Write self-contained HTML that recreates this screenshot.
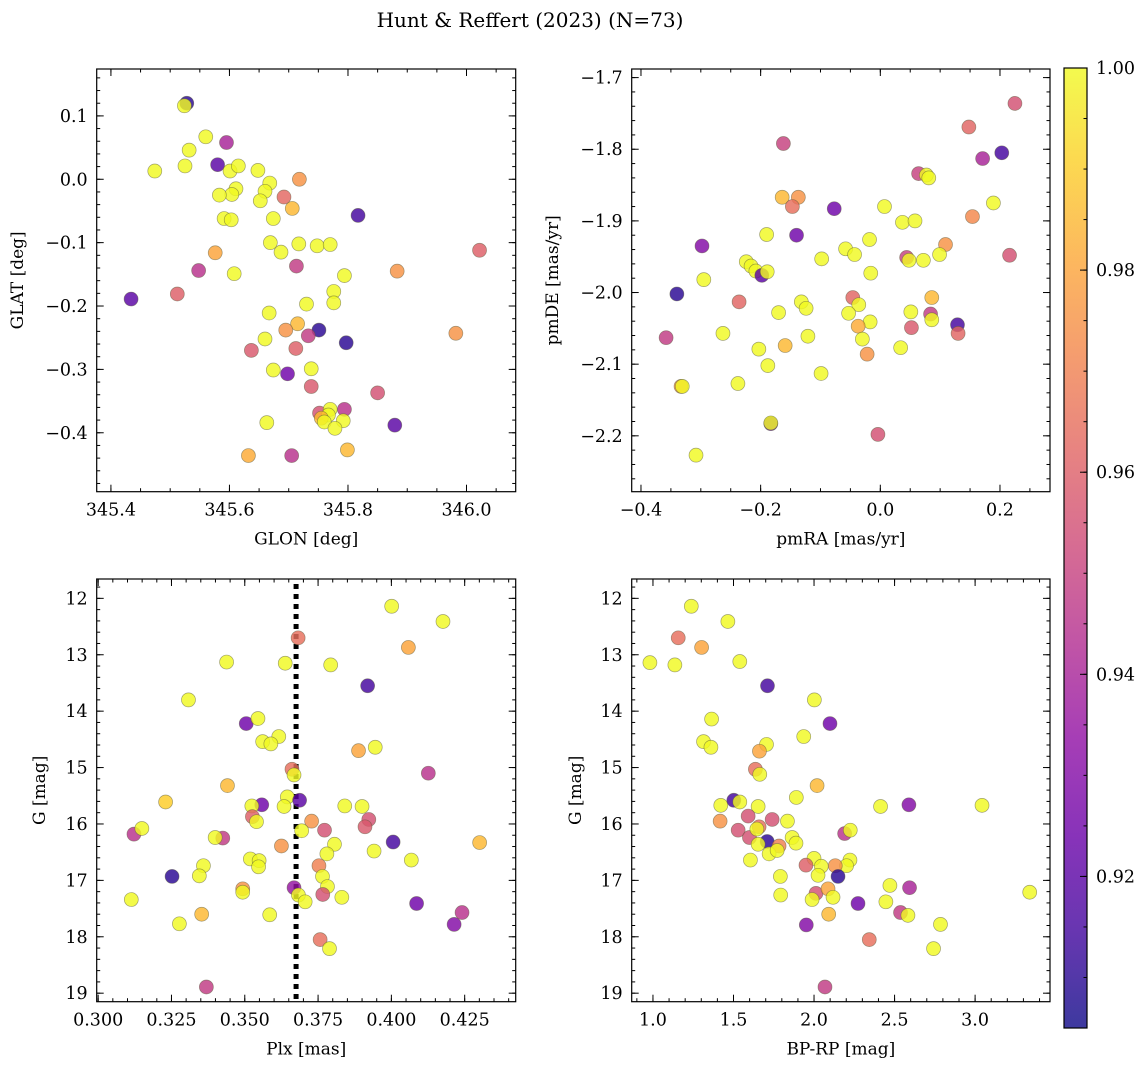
<!DOCTYPE html>
<html><head><meta charset="utf-8"><style>
html,body{margin:0;padding:0;background:#fff;}
svg{display:block;font-family:"DejaVu Serif","Liberation Serif",serif;}
</style></head><body>
<svg id="fig" width="1148" height="1068" viewBox="0 0 1148 1068" xmlns="http://www.w3.org/2000/svg">
<defs><linearGradient id="plasma" x1="0" y1="1" x2="0" y2="0">
<stop offset="0" stop-color="#0d0887"/><stop offset="0.1" stop-color="#41049d"/><stop offset="0.2" stop-color="#6a00a8"/><stop offset="0.3" stop-color="#8f0da4"/><stop offset="0.4" stop-color="#b12a90"/><stop offset="0.5" stop-color="#cc4778"/><stop offset="0.6" stop-color="#e16462"/><stop offset="0.7" stop-color="#f2844b"/><stop offset="0.8" stop-color="#fca636"/><stop offset="0.9" stop-color="#fcce25"/><stop offset="1" stop-color="#f0f921"/></linearGradient></defs>
<text x="530" y="27" text-anchor="middle" font-size="20">Hunt &amp; Reffert (2023) (N=73)</text>
</svg>
<script>
const p1x=[345.528,345.524,345.560,345.595,345.532,345.580,345.474,345.525,345.601,345.615,345.648,345.718,345.668,345.611,345.604,345.583,345.660,345.652,345.692,345.706,345.591,345.603,345.674,345.817,345.669,345.717,345.687,345.748,345.770,345.576,346.022,345.548,345.713,345.608,345.794,345.883,345.434,345.512,345.776,345.776,345.730,345.667,345.715,345.695,345.751,345.733,345.797,345.982,345.660,345.637,345.712,345.674,345.698,345.738,345.738,345.850,345.752,345.794,345.770,345.767,345.755,345.760,345.792,345.778,345.663,345.879,345.799,345.632,345.705];
const p1y=[0.120,0.116,0.067,0.058,0.046,0.023,0.013,0.021,0.013,0.021,0.014,0.000,-0.006,-0.015,-0.024,-0.025,-0.019,-0.034,-0.028,-0.046,-0.062,-0.064,-0.062,-0.057,-0.100,-0.102,-0.115,-0.105,-0.103,-0.116,-0.112,-0.144,-0.137,-0.149,-0.152,-0.145,-0.189,-0.181,-0.177,-0.195,-0.197,-0.211,-0.228,-0.238,-0.238,-0.247,-0.258,-0.243,-0.252,-0.270,-0.267,-0.301,-0.307,-0.299,-0.327,-0.337,-0.369,-0.363,-0.363,-0.372,-0.377,-0.383,-0.381,-0.393,-0.384,-0.388,-0.427,-0.436,-0.436];
const p1c=[0.91,1,1,0.94,1,0.92,1,1,1,1,1,0.975,1,1,1,1,1,1,0.963,0.985,1,1,1,0.915,1,1,1,1,1,0.98,0.96,0.945,0.948,1,1,0.975,0.92,0.96,1,1,1,1,0.985,0.975,0.91,0.948,0.91,0.975,1,0.958,0.96,1,0.925,1,0.958,0.955,0.955,0.945,1,1,0.985,1,1,1,1,0.92,0.985,0.982,0.945];

const p2x=[0.225,0.148,-0.162,0.203,0.171,0.064,0.077,0.081,-0.164,-0.137,-0.147,-0.077,0.007,0.189,0.154,0.037,0.058,-0.190,-0.140,-0.298,-0.018,0.109,-0.058,-0.043,0.044,0.048,0.072,0.099,0.216,-0.098,-0.224,-0.216,-0.208,-0.198,-0.189,-0.016,-0.295,-0.340,-0.236,-0.132,-0.124,-0.046,-0.036,0.086,-0.170,-0.053,0.084,0.086,0.051,-0.017,0.129,0.130,0.052,-0.037,-0.030,-0.358,-0.263,-0.121,-0.203,-0.159,0.034,-0.022,-0.188,-0.099,-0.238,-0.333,-0.331,-0.183,-0.183,-0.004,-0.308];
const p2y=[-1.736,-1.769,-1.792,-1.805,-1.813,-1.834,-1.836,-1.840,-1.867,-1.867,-1.880,-1.883,-1.880,-1.875,-1.894,-1.902,-1.900,-1.919,-1.920,-1.935,-1.926,-1.933,-1.939,-1.947,-1.951,-1.955,-1.955,-1.947,-1.948,-1.953,-1.957,-1.963,-1.970,-1.976,-1.971,-1.973,-1.982,-2.002,-2.013,-2.013,-2.022,-2.007,-2.017,-2.007,-2.028,-2.029,-2.030,-2.038,-2.027,-2.041,-2.045,-2.057,-2.049,-2.047,-2.065,-2.063,-2.057,-2.061,-2.079,-2.074,-2.077,-2.086,-2.102,-2.113,-2.127,-2.131,-2.131,-2.183,-2.182,-2.198,-2.227];
const p2c=[0.955,0.962,0.95,0.915,0.94,0.95,1,1,0.985,0.975,0.965,0.925,1,1,0.972,1,1,1,0.925,0.93,1,0.975,1,1,0.95,1,1,1,0.955,1,1,1,1,0.92,1,1,1,0.91,0.962,1,1,0.962,1,0.985,1,1,0.948,1,1,1,0.915,0.962,0.958,0.982,1,0.948,1,1,1,0.985,1,0.975,1,1,1,0.975,1,0.92,1,0.955,1];

const p3x=[0.4001,0.4176,0.3682,0.4058,0.3438,0.3638,0.3793,0.3919,0.3308,0.3505,0.3545,0.3616,0.3561,0.3589,0.3888,0.3945,0.4126,0.3661,0.3668,0.3441,0.3230,0.3645,0.3687,0.3558,0.3524,0.3634,0.3841,0.3900,0.3526,0.3540,0.3728,0.3923,0.3910,0.3122,0.3149,0.3425,0.3399,0.3694,0.3772,0.3625,0.3806,0.3780,0.3941,0.4006,0.4301,0.4068,0.3519,0.3549,0.3547,0.3359,0.3753,0.3252,0.3345,0.3765,0.3782,0.3668,0.3493,0.3493,0.3683,0.3706,0.3766,0.3831,0.3113,0.4086,0.4241,0.4214,0.3353,0.3585,0.3277,0.3757,0.3789,0.3369];
const p3g=[12.14,12.41,12.70,12.87,13.13,13.15,13.18,13.55,13.80,14.22,14.13,14.45,14.54,14.58,14.70,14.64,15.10,15.03,15.13,15.32,15.61,15.52,15.58,15.66,15.68,15.69,15.68,15.69,15.87,15.96,15.95,15.92,16.05,16.18,16.08,16.25,16.24,16.12,16.11,16.39,16.36,16.53,16.48,16.32,16.33,16.64,16.62,16.65,16.76,16.74,16.74,16.93,16.92,16.93,17.11,17.13,17.15,17.21,17.26,17.38,17.25,17.30,17.34,17.41,17.57,17.78,17.60,17.61,17.77,18.05,18.21,18.89];
const p3c=[1,1,0.965,0.98,1,1,1,0.915,1,0.925,1,1,1,1,0.98,1,0.945,0.965,1,0.985,0.99,1,0.92,0.925,1,1,1,1,0.96,1,0.975,0.955,0.958,0.945,1,0.948,1,1,0.955,0.975,1,1,1,0.915,0.985,1,1,1,1,1,0.97,0.91,1,1,1,0.935,0.975,1,1,1,0.955,1,1,0.925,0.945,0.93,0.985,1,1,0.965,1,0.948];

const p4x=[1.238,1.465,1.157,1.302,0.981,1.136,1.539,1.711,2.002,2.099,1.364,1.314,1.360,1.936,1.705,1.661,1.636,1.663,2.019,1.890,1.421,1.502,1.539,1.653,2.413,2.589,3.043,1.417,1.591,1.740,1.835,1.529,1.599,1.659,1.645,1.709,1.783,1.653,1.721,1.771,1.864,1.888,1.605,2.190,2.225,2.223,2.202,2.000,1.950,2.045,2.132,2.025,2.149,1.791,1.793,2.012,2.087,1.988,2.118,2.273,2.471,2.593,2.446,2.537,2.583,2.091,3.339,2.785,1.952,2.343,2.742,2.068];
const p4g=[12.14,12.41,12.70,12.87,13.14,13.18,13.12,13.55,13.80,14.22,14.14,14.54,14.64,14.45,14.59,14.71,15.03,15.12,15.32,15.53,15.67,15.58,15.61,15.69,15.69,15.66,15.67,15.95,15.86,15.92,15.95,16.11,16.24,16.05,16.09,16.31,16.39,16.36,16.53,16.47,16.24,16.34,16.64,16.17,16.11,16.64,16.74,16.61,16.73,16.75,16.74,16.91,16.93,16.93,17.26,17.23,17.15,17.34,17.30,17.41,17.09,17.13,17.38,17.57,17.62,17.60,17.21,17.78,17.79,18.05,18.21,18.89];
const p4c=[1,1,0.965,0.98,1,1,1,0.915,1,0.925,1,1,1,1,1,0.98,0.965,1,0.985,1,1,0.915,1,1,1,0.93,1,0.975,0.955,0.955,1,0.955,0.955,0.965,1,0.91,0.97,1,1,1,1,1,1,0.945,1,1,1,1,0.96,1,0.975,1,0.91,1,1,0.955,0.98,1,1,0.925,1,0.94,1,0.948,1,0.985,1,1,0.93,0.965,1,0.948];

const cbTicks=[0.92,0.94,0.96,0.98,1.00];
const VMIN=0.905, VMAX=1.0;

const NS="http://www.w3.org/2000/svg";
const svg=document.getElementById('fig');
const stops=[[13,8,135],[65,4,157],[106,0,168],[143,13,164],[177,42,144],[204,71,120],[225,100,98],[242,132,75],[252,166,54],[252,206,37],[240,249,33]];
function plasma(v){let t=(v-VMIN)/(VMAX-VMIN);t=Math.max(0,Math.min(1,t))*10;const i=Math.min(9,Math.floor(t)),f=t-i;const a=stops[i],b=stops[i+1];return 'rgb('+a.map((c,k)=>Math.round(c+(b[k]-c)*f)).join(',')+')';}
function el(tag,attrs,parent){const e=document.createElementNS(NS,tag);for(const k in attrs)e.setAttribute(k,attrs[k]);(parent||svg).appendChild(e);return e;}
function fmt(v,d){const s=Math.abs(v).toFixed(d);return (v<-1e-9?'\u2212':'')+s;}

function panel(o){
  const g=el('g',{});
  
  
  const X=v=>o.L+(v-o.x0)/(o.x1-o.x0)*(o.R-o.L);
  const Y=v=>o.B-(v-o.y0)/(o.y1-o.y0)*(o.B-o.T);
  const tg=el('g',{stroke:'#000','stroke-width':1},g);
  
  
  function ticksX(step,len){const s=Math.ceil((Math.min(o.x0,o.x1))/step-1e-6);for(let k=s;;k++){const v=k*step;if(v>Math.max(o.x0,o.x1)+1e-9)break;const x=X(v);el('line',{x1:x,x2:x,y1:o.B,y2:o.B-len},tg);el('line',{x1:x,x2:x,y1:o.T,y2:o.T+len},tg);}}
  function ticksY(step,len){const lo=Math.min(o.y0,o.y1),hi=Math.max(o.y0,o.y1);const s=Math.ceil(lo/step-1e-6);for(let k=s;;k++){const v=k*step;if(v>hi+1e-9)break;const y=Y(v);el('line',{x1:o.L,x2:o.L+len,y1:y,y2:y},tg);el('line',{x1:o.R,x2:o.R-len,y1:y,y2:y},tg);}}
  ticksX(o.xminor,3.5);ticksX(o.xmajor,7);ticksY(o.yminor,3.5);ticksY(o.ymajor,7);
  {const s=Math.ceil(Math.min(o.x0,o.x1)/o.xmajor-1e-6);for(let k=s;;k++){const v=k*o.xmajor;if(v>Math.max(o.x0,o.x1)+1e-9)break;const t=el('text',{x:X(v),y:o.B+24,'text-anchor':'middle','font-size':17.5},g);t.textContent=fmt(v,o.xd);}}
  {const lo=Math.min(o.y0,o.y1),hi=Math.max(o.y0,o.y1);const s=Math.ceil(lo/o.ymajor-1e-6);for(let k=s;;k++){const v=k*o.ymajor;if(v>hi+1e-9)break;const t=el('text',{x:o.L-9,y:Y(v)+6,'text-anchor':'end','font-size':17.5},g);t.textContent=fmt(v,o.yd);}}
  if(o.vline!==undefined){const l=el('line',{x1:X(o.vline),x2:X(o.vline),y1:o.T+5,y2:o.B,stroke:'#000','stroke-width':5,'stroke-dasharray':'5 5'},g);}
  const pg=el('g',{},g);
  
  
  for(let i=0;i<o.xs.length;i++){
    const c=el('circle',{cx:X(o.xs[i]),cy:Y(o.ys[i]),r:7,fill:plasma(o.cs[i]),'fill-opacity':0.82,stroke:'#5a5a3a','stroke-opacity':0.55,'stroke-width':0.7},pg);
    
    
  }
  const fr=el('rect',{x:o.L,y:o.T,width:o.R-o.L,height:o.B-o.T,fill:'none',stroke:'#000','stroke-width':1.2},g);
  
  
  const xl=el('text',{x:(o.L+o.R)/2,y:o.B+53,'text-anchor':'middle','font-size':17},g);xl.textContent=o.xlabel;
  
  
  const yx=o.ylx,yy=(o.T+o.B)/2;
  const yl=el('text',{x:yx,y:yy,'text-anchor':'middle','font-size':17,transform:'rotate(-90 '+yx+' '+yy+')'},g);yl.textContent=o.ylabel;
  
  
}

panel({name:'glon-glat-panel',L:96.7,R:515.7,T:69,B:491.7,x0:345.376,x1:346.083,y0:-0.493,y1:0.174,xmajor:0.2,xminor:0.05,ymajor:0.1,yminor:0.02,xd:1,yd:1,xs:p1x,ys:p1y,cs:p1c,xlabel:'GLON [deg]',ylabel:'GLAT [deg]',ylx:23});
panel({name:'proper-motion-panel',L:631.7,R:1050,T:69,B:491.7,x0:-0.4155,x1:0.2836,y0:-2.278,y1:-1.688,xmajor:0.2,xminor:0.05,ymajor:0.1,yminor:0.02,xd:1,yd:1,xs:p2x,ys:p2y,cs:p2c,xlabel:'pmRA [mas/yr]',ylabel:'pmDE [mas/yr]',ylx:558});
panel({name:'parallax-panel',L:96.7,R:515.7,T:579,B:1001.7,x0:0.2995,x1:0.4424,y0:19.151,y1:11.657,xmajor:0.025,xminor:0.005,ymajor:1,yminor:0.2,xd:3,yd:0,xs:p3x,ys:p3g,cs:p3c,xlabel:'Plx [mas]',ylabel:'G [mag]',ylx:45,vline:0.3675});
panel({name:'cmd-panel',L:631.7,R:1050,T:579,B:1001.7,x0:0.868,x1:3.465,y0:19.151,y1:11.657,xmajor:0.5,xminor:0.1,ymajor:1,yminor:0.2,xd:1,yd:0,xs:p4x,ys:p4g,cs:p4c,xlabel:'BP-RP [mag]',ylabel:'G [mag]',ylx:581});

const cbL=1064,cbR=1087,cbT=68,cbB=1028;
const cb=el('g',{});


el('rect',{x:cbL,y:cbT,width:cbR-cbL,height:cbB-cbT,fill:'url(#plasma)','fill-opacity':0.8},cb);
const CY=v=>cbB-(v-VMIN)/(VMAX-VMIN)*(cbB-cbT);
for(let k=Math.ceil(VMIN/0.005);k*0.005<=VMAX+1e-9;k++){const y=CY(k*0.005);el('line',{x1:cbR,x2:cbR-3.5,y1:y,y2:y,stroke:'#000'},cb);}
for(const v of cbTicks){const y=CY(v);el('line',{x1:cbR,x2:cbR-7,y1:y,y2:y,stroke:'#000'},cb);const t=el('text',{x:cbR+9,y:y+6,'font-size':17.5},cb);t.textContent=v.toFixed(2);

}
el('rect',{x:cbL,y:cbT,width:cbR-cbL,height:cbB-cbT,fill:'none',stroke:'#000','stroke-width':1.2},cb);
</script>
</body></html>
